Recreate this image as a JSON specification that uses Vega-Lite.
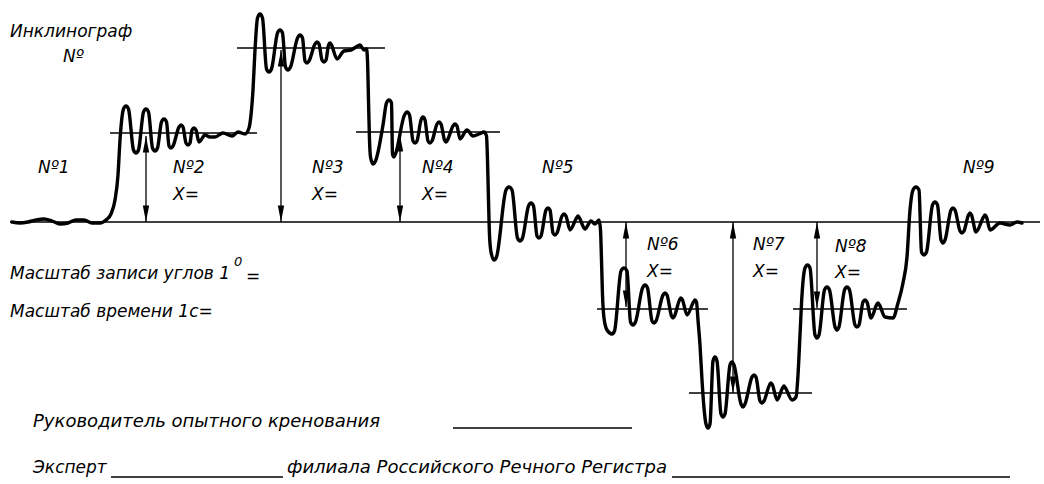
{
  "$schema": "https://vega.github.io/schema/vega-lite/v6.json",
  "width": 1044,
  "height": 484,
  "autosize": {"type": "fit", "contains": "padding"},
  "padding": 0,
  "background": "white",
  "config": {"view": {"stroke": null}},
  "datasets": {
    "trace": [
      {"x":12,"y":222},{"x":20,"y":223},{"x":28,"y":222},{"x":36,"y":220},{"x":44,"y":219},{"x":52,"y":221},{"x":60,"y":224},
      {"x":68,"y":223},{"x":76,"y":220},{"x":84,"y":220},{"x":92,"y":223},{"x":100,"y":223},{"x":106,"y":220},{"x":111,"y":214},
      {"x":115,"y":200},{"x":118,"y":175},{"x":120,"y":140},
      {"x":123.5,"y":109},{"x":126,"y":106},{"x":128.5,"y":109},
      {"x":133.5,"y":150},{"x":136,"y":153},{"x":138.5,"y":150},
      {"x":143.5,"y":112},{"x":146,"y":109},{"x":148.5,"y":112},
      {"x":152.5,"y":148},{"x":155,"y":151},{"x":157.5,"y":148},
      {"x":161.5,"y":122},{"x":164,"y":119},{"x":166.5,"y":122},
      {"x":169,"y":146},{"x":171,"y":148},{"x":173,"y":146},
      {"x":179,"y":127},{"x":181,"y":125},{"x":183,"y":127},
      {"x":186,"y":143},{"x":188,"y":145},{"x":190,"y":143},
      {"x":192,"y":130},{"x":194,"y":128},{"x":196,"y":130},
      {"x":199,"y":142},{"x":205,"y":135},{"x":210,"y":137},{"x":215,"y":137},{"x":223,"y":133},{"x":232,"y":136},
      {"x":238,"y":132},{"x":245,"y":134},{"x":249,"y":128},{"x":251,"y":115},{"x":253,"y":90},{"x":255,"y":50},
      {"x":257.5,"y":18},{"x":260,"y":14},{"x":262.5,"y":18},
      {"x":266.5,"y":69},{"x":269,"y":72},{"x":271.5,"y":69},
      {"x":277.5,"y":33},{"x":280,"y":30},{"x":282.5,"y":33},
      {"x":285.5,"y":67},{"x":288,"y":70},{"x":290.5,"y":67},
      {"x":297.5,"y":38},{"x":300,"y":35},{"x":302.5,"y":38},
      {"x":305,"y":61},{"x":307,"y":63},{"x":309,"y":61},
      {"x":315,"y":44},{"x":317,"y":42},{"x":319,"y":44},
      {"x":322,"y":60},{"x":324,"y":62},{"x":326,"y":60},
      {"x":328.5,"y":45},{"x":330,"y":43},{"x":331.5,"y":45},
      {"x":337,"y":59},{"x":344,"y":51},{"x":351,"y":50},{"x":356,"y":47},{"x":360,"y":45},{"x":364,"y":50},
      {"x":366.5,"y":49},{"x":367.5,"y":60},{"x":368.5,"y":100},{"x":369.5,"y":140},{"x":370.5,"y":157},
      {"x":373,"y":164},{"x":375.5,"y":161},{"x":383,"y":125},
      {"x":386.5,"y":103},{"x":389,"y":100},{"x":391.5,"y":103},
      {"x":392.5,"y":154},{"x":394,"y":157},{"x":395.5,"y":154},
      {"x":404.5,"y":115},{"x":407,"y":112},{"x":409.5,"y":115},
      {"x":413,"y":141},{"x":415,"y":143},{"x":417,"y":141},
      {"x":421,"y":120},{"x":423,"y":117},{"x":425,"y":120},
      {"x":428,"y":141},{"x":430,"y":143},{"x":432,"y":141},
      {"x":437,"y":124},{"x":439,"y":122},{"x":441,"y":124},
      {"x":444.5,"y":140},{"x":446,"y":142},{"x":447.5,"y":140},
      {"x":453,"y":126},{"x":455,"y":124},{"x":457,"y":126},
      {"x":460,"y":139},{"x":467,"y":130},{"x":473,"y":136},{"x":479,"y":134},{"x":484,"y":132},
      {"x":486.5,"y":136},{"x":487.5,"y":160},{"x":488.5,"y":200},{"x":489.5,"y":235},{"x":491,"y":252},
      {"x":494,"y":260},{"x":496.5,"y":257},
      {"x":506,"y":190},{"x":509,"y":187},{"x":512,"y":190},
      {"x":517.5,"y":238},{"x":520,"y":241},{"x":522.5,"y":238},
      {"x":528.5,"y":206},{"x":531,"y":203},{"x":533.5,"y":206},
      {"x":537,"y":236},{"x":539,"y":238},{"x":541,"y":236},
      {"x":546,"y":210},{"x":548,"y":208},{"x":550,"y":210},
      {"x":553,"y":233},{"x":555,"y":235},{"x":557,"y":233},
      {"x":562,"y":216},{"x":564,"y":214},{"x":566,"y":216},
      {"x":570,"y":230},
      {"x":576.5,"y":218},{"x":578,"y":216},{"x":579.5,"y":218},
      {"x":585,"y":229},{"x":591,"y":221},{"x":595,"y":224},{"x":599,"y":220},
      {"x":600.5,"y":230},{"x":601.5,"y":260},{"x":602.5,"y":295},{"x":604,"y":318},{"x":607,"y":330},
      {"x":612,"y":334},{"x":614.5,"y":331},
      {"x":621,"y":271},{"x":624,"y":268},{"x":627,"y":271},
      {"x":630.5,"y":322},{"x":633,"y":325},{"x":635.5,"y":322},
      {"x":642.5,"y":288},{"x":645,"y":285},{"x":647.5,"y":288},
      {"x":652,"y":321},{"x":654,"y":323},{"x":656,"y":321},
      {"x":663,"y":295},{"x":665,"y":293},{"x":667,"y":295},
      {"x":671.5,"y":316},{"x":673,"y":318},{"x":674.5,"y":316},
      {"x":679.5,"y":300},{"x":681,"y":298},{"x":682.5,"y":300},
      {"x":687,"y":315},
      {"x":693.5,"y":302},{"x":695,"y":300},{"x":696.5,"y":302},
      {"x":698,"y":320},{"x":700,"y":345},{"x":702,"y":380},{"x":704,"y":408},{"x":706,"y":424},
      {"x":708,"y":428},{"x":710,"y":424},
      {"x":713,"y":361},{"x":715,"y":357},{"x":717,"y":361},
      {"x":721,"y":414},{"x":723,"y":417},{"x":725,"y":414},
      {"x":730,"y":365},{"x":732,"y":362},{"x":734,"y":365},
      {"x":741,"y":404},{"x":743,"y":407},{"x":745,"y":404},
      {"x":752,"y":377},{"x":754,"y":375},{"x":756,"y":377},
      {"x":760,"y":401},{"x":762,"y":403},{"x":764,"y":401},
      {"x":769.5,"y":385},{"x":771,"y":383},{"x":772.5,"y":385},
      {"x":777,"y":400},
      {"x":782.5,"y":388},{"x":784,"y":386},{"x":785.5,"y":388},
      {"x":792,"y":400},{"x":796,"y":397},{"x":798,"y":375},{"x":800,"y":335},{"x":802,"y":295},
      {"x":805,"y":268},{"x":807.5,"y":265},{"x":810,"y":268},
      {"x":815,"y":335},{"x":817,"y":338},{"x":819,"y":335},
      {"x":824.5,"y":290},{"x":827,"y":287},{"x":829.5,"y":290},
      {"x":835,"y":327},{"x":837,"y":330},{"x":839,"y":327},
      {"x":844.5,"y":290},{"x":847,"y":287},{"x":849.5,"y":290},
      {"x":855,"y":325},{"x":857,"y":327},{"x":859,"y":325},
      {"x":863,"y":302},{"x":865,"y":300},{"x":867,"y":302},
      {"x":871,"y":318},
      {"x":876.5,"y":305},{"x":878,"y":303},{"x":879.5,"y":305},
      {"x":885,"y":317},{"x":893,"y":318},{"x":898,"y":303},{"x":903,"y":283},{"x":907,"y":257},{"x":910,"y":210},
      {"x":913,"y":190},{"x":916,"y":187},{"x":919,"y":190},
      {"x":921.5,"y":252},{"x":924,"y":255},{"x":926.5,"y":252},
      {"x":932.5,"y":205},{"x":935,"y":202},{"x":937.5,"y":205},
      {"x":941,"y":240},{"x":943,"y":243},{"x":945,"y":240},
      {"x":951,"y":210},{"x":953,"y":208},{"x":955,"y":210},
      {"x":960,"y":231},{"x":962,"y":233},{"x":964,"y":231},
      {"x":968.5,"y":215},{"x":970,"y":213},{"x":971.5,"y":215},
      {"x":976,"y":232},
      {"x":983.5,"y":217},{"x":985,"y":215},{"x":986.5,"y":217},
      {"x":990,"y":230},{"x":1000,"y":223},{"x":1010,"y":225},{"x":1017,"y":222},{"x":1022,"y":223}
    ],
    "hlines": [
      {"x":10,"x2":1040,"y":222},
      {"x":110,"x2":257,"y":133},
      {"x":237,"x2":385,"y":48},
      {"x":356,"x2":500,"y":132},
      {"x":597,"x2":708,"y":309},
      {"x":689,"x2":812,"y":393},
      {"x":793,"x2":907,"y":309},
      {"x":453,"x2":632,"y":428},
      {"x":111,"x2":283,"y":477},
      {"x":672,"x2":1010,"y":477}
    ],
    "vlines": [
      {"x":146,"y":136,"y2":222},
      {"x":281,"y":50,"y2":222},
      {"x":400,"y":135,"y2":222},
      {"x":626,"y":222,"y2":307},
      {"x":733,"y":222,"y2":393},
      {"x":817,"y":222,"y2":308}
    ],
    "heads": [
      {"x":146,"y":136,"dir":"up"},{"x":146,"y":222,"dir":"down"},
      {"x":281,"y":50,"dir":"up"},{"x":281,"y":222,"dir":"down"},
      {"x":400,"y":135,"dir":"up"},{"x":400,"y":222,"dir":"down"},
      {"x":626,"y":222,"dir":"up"},{"x":626,"y":307,"dir":"down"},
      {"x":733,"y":222,"dir":"up"},{"x":733,"y":393,"dir":"down"},
      {"x":817,"y":222,"dir":"up"},{"x":817,"y":308,"dir":"down"}
    ],
    "labels": [
      {"t":"Инклинограф","x":10,"y":32},
      {"t":"Nº","x":63,"y":57},
      {"t":"Nº1","x":38,"y":168},
      {"t":"Nº2","x":173,"y":168},{"t":"X=","x":173,"y":195},
      {"t":"Nº3","x":312,"y":168},{"t":"X=","x":312,"y":195},
      {"t":"Nº4","x":422,"y":168},{"t":"X=","x":422,"y":195},
      {"t":"Nº5","x":542,"y":168},
      {"t":"Nº6","x":647,"y":245},{"t":"X=","x":647,"y":272},
      {"t":"Nº7","x":753,"y":245},{"t":"X=","x":753,"y":272},
      {"t":"Nº8","x":835,"y":247},{"t":"X=","x":835,"y":273},
      {"t":"Nº9","x":963,"y":168},
      {"t":"Масштаб записи углов 1","x":10,"y":274},
      {"t":"=","x":246,"y":277},
      {"t":"Масштаб времени 1с=","x":10,"y":312},
      {"t":"Эксперт","x":33,"y":468}
    ],
    "captions": [
      {"t":"Руководитель опытного кренования","x":33,"y":422},
      {"t":"филиала Российского Речного Регистра","x":287,"y":468}
    ],
    "sup": [
      {"t":"0","x":234,"y":262}
    ]
  },
  "layer": [
    {
      "data": {"name": "hlines"},
      "mark": {"type": "rule", "color": "black", "strokeWidth": 1.6},
      "encoding": {
        "x": {"field": "x", "type": "quantitative", "scale": {"domain": [0, 1044], "nice": false, "zero": false}, "axis": null},
        "x2": {"field": "x2"},
        "y": {"field": "y", "type": "quantitative", "scale": {"domain": [0, 484], "reverse": true, "nice": false, "zero": false}, "axis": null}
      }
    },
    {
      "data": {"name": "vlines"},
      "mark": {"type": "rule", "color": "black", "strokeWidth": 1.3},
      "encoding": {
        "x": {"field": "x", "type": "quantitative", "scale": {"domain": [0, 1044], "nice": false, "zero": false}, "axis": null},
        "y": {"field": "y", "type": "quantitative", "scale": {"domain": [0, 484], "reverse": true, "nice": false, "zero": false}, "axis": null},
        "y2": {"field": "y2"}
      }
    },
    {
      "data": {"name": "heads"},
      "mark": {"type": "point", "filled": true, "color": "black", "opacity": 1, "size": 225, "strokeWidth": 0},
      "encoding": {
        "x": {"field": "x", "type": "quantitative", "scale": {"domain": [0, 1044], "nice": false, "zero": false}, "axis": null},
        "y": {"field": "y", "type": "quantitative", "scale": {"domain": [0, 484], "reverse": true, "nice": false, "zero": false}, "axis": null},
        "shape": {"field": "dir", "type": "nominal", "scale": {"domain": ["up", "down"], "range": ["M0,0L-0.42,2.2L0.42,2.2Z", "M0,0L-0.42,-2.2L0.42,-2.2Z"]}, "legend": null}
      }
    },
    {
      "data": {"name": "trace"},
      "mark": {"type": "line", "color": "black", "strokeWidth": 3.4, "interpolate": "monotone", "strokeJoin": "round", "strokeCap": "round"},
      "encoding": {
        "x": {"field": "x", "type": "quantitative", "scale": {"domain": [0, 1044], "nice": false, "zero": false}, "axis": null},
        "y": {"field": "y", "type": "quantitative", "scale": {"domain": [0, 484], "reverse": true, "nice": false, "zero": false}, "axis": null}
      }
    },
    {
      "data": {"name": "labels"},
      "mark": {"type": "text", "align": "left", "baseline": "middle", "font": "DejaVu Sans", "fontStyle": "italic", "fontSize": 17, "color": "black"},
      "encoding": {
        "x": {"field": "x", "type": "quantitative", "scale": {"domain": [0, 1044], "nice": false, "zero": false}, "axis": null},
        "y": {"field": "y", "type": "quantitative", "scale": {"domain": [0, 484], "reverse": true, "nice": false, "zero": false}, "axis": null},
        "text": {"field": "t"}
      }
    },
    {
      "data": {"name": "captions"},
      "mark": {"type": "text", "align": "left", "baseline": "middle", "font": "DejaVu Sans", "fontStyle": "italic", "fontSize": 18, "color": "black"},
      "encoding": {
        "x": {"field": "x", "type": "quantitative", "scale": {"domain": [0, 1044], "nice": false, "zero": false}, "axis": null},
        "y": {"field": "y", "type": "quantitative", "scale": {"domain": [0, 484], "reverse": true, "nice": false, "zero": false}, "axis": null},
        "text": {"field": "t"}
      }
    },
    {
      "data": {"name": "sup"},
      "mark": {"type": "text", "align": "left", "baseline": "middle", "font": "DejaVu Sans", "fontStyle": "italic", "fontSize": 13, "color": "black"},
      "encoding": {
        "x": {"field": "x", "type": "quantitative", "scale": {"domain": [0, 1044], "nice": false, "zero": false}, "axis": null},
        "y": {"field": "y", "type": "quantitative", "scale": {"domain": [0, 484], "reverse": true, "nice": false, "zero": false}, "axis": null},
        "text": {"field": "t"}
      }
    }
  ]
}
